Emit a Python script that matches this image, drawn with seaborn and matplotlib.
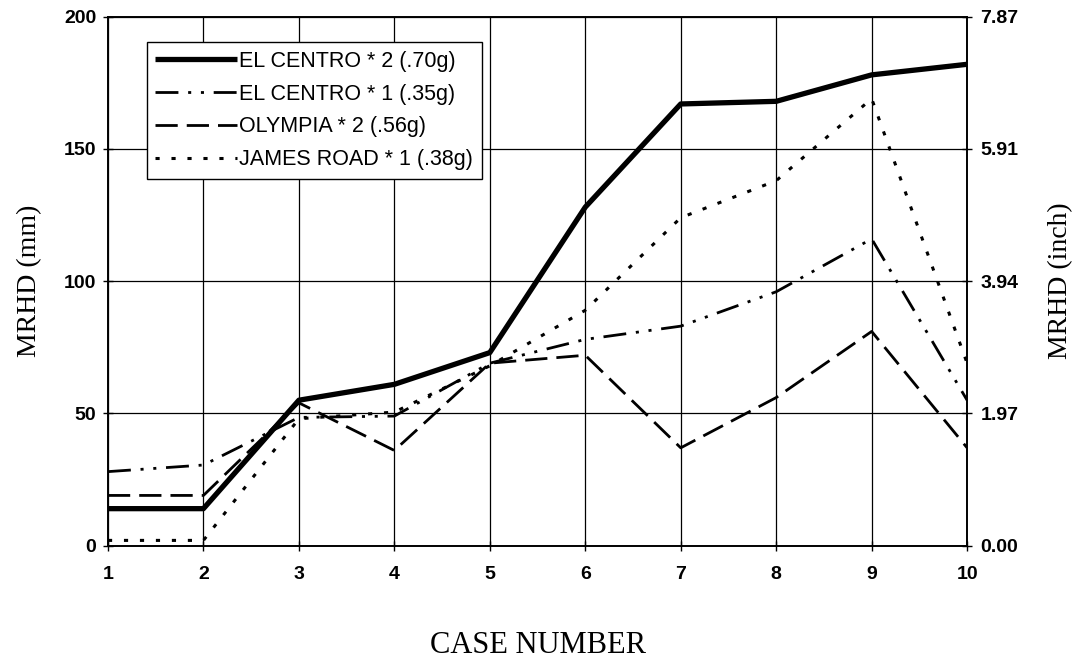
import matplotlib
matplotlib.use("Agg")
import matplotlib.pyplot as plt
import seaborn as sns
import pandas as pd

# Case numbers and peak relative horizontal displacement (mm) per ground motion
cases = [1, 2, 3, 4, 5, 6, 7, 8, 9, 10]
el_centro_x2 = [14, 14, 55, 61, 73, 128, 167, 168, 178, 182]
el_centro_x1 = [28, 30.5, 48.5, 49, 69, 78, 83, 96, 116, 55]
olympia_x2 = [19, 19, 54, 36, 69, 72, 37, 56, 81, 37]
james_road_x1 = [2, 2, 48, 50.5, 68, 89, 124, 138, 169, 69]

series_names = [
    "EL CENTRO * 2 (.70g)",
    "EL CENTRO * 1 (.35g)",
    "OLYMPIA * 2 (.56g)",
    "JAMES ROAD * 1 (.38g)",
]
mm_ticks = [0, 50, 100, 150, 200]
inch_tick_labels = ["0.00", "1.97", "3.94", "5.91", "7.87"]

sns.set_theme(style="white")
plt.rcParams["lines.scale_dashes"] = False
plt.rcParams["font.family"] = ["Liberation Sans", "DejaVu Sans"]

df = pd.DataFrame({
    "case": cases * 4,
    "mrhd": el_centro_x2 + el_centro_x1 + olympia_x2 + james_road_x1,
    "series": sum([[n] * len(cases) for n in series_names], []),
})

fig = plt.figure(figsize=(10.83, 6.62), dpi=100)
ax = fig.add_axes([0.0997, 0.1757, 0.7933, 0.7991])

line_styles = {
    series_names[0]: dict(lw=3.8, ls="-"),
    series_names[1]: dict(lw=2.0, ls=(0, (16.5, 7, 2.2, 7, 2.2, 7))),
    series_names[2]: dict(lw=2.0, ls=(0, (16, 6.5))),
    series_names[3]: dict(lw=2.2, ls=(0, (3, 8.5))),
}

for name in series_names:
    sub = df[df["series"] == name]
    sns.lineplot(data=sub, x="case", y="mrhd", ax=ax, color="black",
                 linewidth=line_styles[name]["lw"], label=name,
                 solid_capstyle="butt", dash_capstyle="butt")
    ax.lines[-1].set_linestyle(line_styles[name]["ls"])

ax.set_xlim(1, 10)
ax.set_ylim(0, 200)
ax.set_xticks(cases)
ax.set_yticks(mm_ticks)
ax.grid(True, color="black", linewidth=0.9)
for sp in ax.spines.values():
    sp.set_color("black")
    sp.set_linewidth(1.2)
    sp.set_visible(True)

tick_font = dict(family="Liberation Sans", weight="bold", size=14)
ax.tick_params(axis="both", direction="inout", length=7, width=1,
               color="black", labelcolor="black", left=True, bottom=True)
ax.tick_params(axis="y", pad=5)
ax.tick_params(axis="x", pad=11)
for lab in ax.get_xticklabels() + ax.get_yticklabels():
    lab.set_fontproperties(matplotlib.font_manager.FontProperties(**tick_font))

ax.set_xlabel("CASE NUMBER", family="Liberation Serif", size=22,
              color="black", va="center")
ax.set_ylabel("MRHD (mm)", family="Liberation Serif", size=20,
              color="black", va="center")
ax.xaxis.set_label_coords(0.501, -0.188)
ax.yaxis.set_label_coords(-0.091, 0.5)

# Secondary axis in inches
ax2 = ax.twinx()
ax2.set_ylim(0, 200 / 25.4)
ax2.set_yticks([t / 25.4 for t in mm_ticks])
ax2.set_yticklabels(inch_tick_labels)
ax2.tick_params(axis="y", direction="inout", length=7, width=1, pad=6,
                color="black", labelcolor="black", right=True)
for lab in ax2.get_yticklabels():
    lab.set_fontproperties(matplotlib.font_manager.FontProperties(**tick_font))
for sp in ax2.spines.values():
    sp.set_color("black")
    sp.set_linewidth(1.2)
ax2.set_ylabel("MRHD (inch)", family="Liberation Serif", size=20,
               color="black", va="center", rotation=90)
ax2.yaxis.set_label_coords(1.109, 0.5)
ax2.grid(False)

leg = ax.legend(loc="upper left", bbox_to_anchor=(0.045, 0.952),
                borderaxespad=0, frameon=True, fancybox=False, shadow=False,
                framealpha=1, edgecolor="black", handlelength=3.8,
                handletextpad=0.1, borderpad=0.4, labelspacing=0.55,
                prop=dict(family="Liberation Sans", size=15.5))
leg.get_frame().set_linewidth(1.0)
for t in leg.get_texts():
    t.set_color("black")

fig.savefig("out.png", dpi=100, facecolor="white")
